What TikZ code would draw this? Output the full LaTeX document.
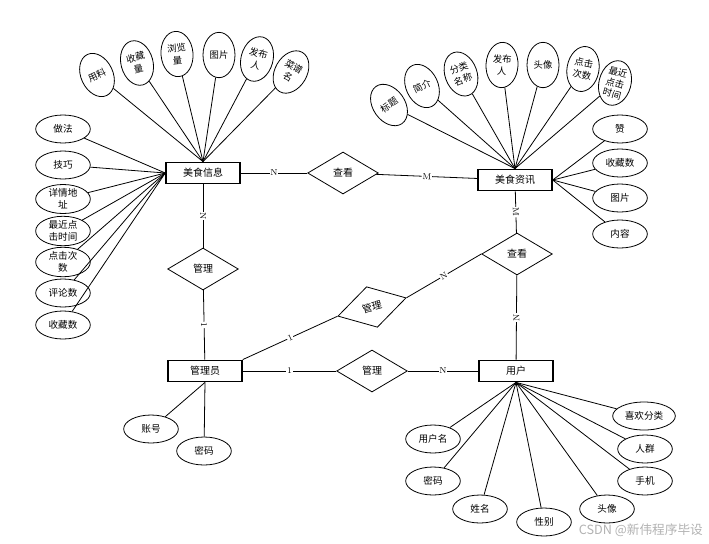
\documentclass[tikz,border=0pt]{standalone}
\usepackage{fontspec}
\newfontfamily\cjk{Noto Sans CJK SC}
\usetikzlibrary{shapes.geometric}

\begin{document}
\begin{tikzpicture}[x=0.75pt,y=-0.75pt,line width=0.6pt,
		entity/.style={rectangle,draw,line width=1.1pt,minimum width=55.5pt,minimum height=16pt,inner sep=0pt,font=\cjk\fontsize{7.5}{9}\selectfont},
		relation/.style={diamond,draw,minimum width=53pt,minimum height=31.5pt,inner sep=0pt,font=\cjk\fontsize{7.5}{9}\selectfont},
		attr/.style={ellipse,draw,minimum width=41pt,minimum height=21pt,inner sep=0pt,align=center,font=\cjk\fontsize{7.2}{9}\selectfont},
		tallattr/.style={attr,minimum width=24pt,minimum height=34pt,inner sep=-1pt,font=\cjk\fontsize{7}{9}\selectfont},
		card/.style={fill=white,inner sep=0.5pt,sloped,font=\fontsize{6.5}{7}\selectfont},
		watermark/.style={anchor=west,text=black!30,font=\cjk\fontsize{9.5}{11}\selectfont}]
		\useasboundingbox (0,0) rectangle (709,543);

		% entities
		\node at (203, 173) [entity] (food_info)  {美食信息};
		\node at (515, 180) [entity] (food_news)  {美食资讯};
		\node at (205, 371) [entity] (admin)      {管理员};
		\node at (516, 371) [entity] (user)       {用户};

		% relations
		\node at (343, 173) [relation] (view_top)      {查看};
		\node at (203, 269) [relation] (manage_left)   {管理};
		\node at (517, 254) [relation] (view_right)    {查看};
		\node at (372, 307) [relation,rotate=15] (manage_tilt) {管理};
		\node at (372, 371) [relation] (manage_bottom) {管理};

		% attributes of 美食信息
		\node at ( 97,  75) [tallattr,rotate=25]  (info_ingredients) {用料};
		\node at (137,  63) [tallattr,rotate=15]  (info_favorites)   {收藏\\量};
		\node at (177,  54) [tallattr,rotate=5]   (info_views)       {浏览\\量};
		\node at (219,  55) [tallattr]            (info_picture)     {图片};
		\node at (257,  59) [tallattr,rotate=-15] (info_publisher)   {发布\\人};
		\node at (291,  72) [tallattr,rotate=-30] (info_recipe_name) {菜谱\\名};
		\node at ( 63, 129) [attr] (info_method)        {做法};
		\node at ( 63, 165) [attr] (info_tips)          {技巧};
		\node at ( 63, 199) [attr] (info_detail_url)    {详情地\\址};
		\node at ( 63, 231) [attr] (info_last_click)    {最近点\\击时间};
		\node at ( 63, 262) [attr] (info_click_count)   {点击次\\数};
		\node at ( 63, 293) [attr] (info_comments)      {评论数};
		\node at ( 63, 325) [attr] (info_collect_count) {收藏数};

		% attributes of 美食资讯
		\node at (389, 105) [tallattr,rotate=35]  (news_title)       {标题};
		\node at (422,  86) [tallattr,rotate=25]  (news_intro)       {简介};
		\node at (461,  74) [tallattr,rotate=20]  (news_category)    {分类\\名称};
		\node at (502,  65) [tallattr,rotate=-3]  (news_publisher)   {发布\\人};
		\node at (543,  65) [tallattr]            (news_avatar)      {头像};
		\node at (583,  69) [tallattr,rotate=-10] (news_click_count) {点击\\次数};
		\node at (615,  83) [tallattr,rotate=-15,inner sep=-3pt,font=\cjk\fontsize{7}{8.5}\selectfont] (news_last_click) {最近\\点击\\时间};
		\node at (620, 129) [attr] (news_like)          {赞};
		\node at (620, 163) [attr] (news_collect_count) {收藏数};
		\node at (620, 198) [attr] (news_picture)       {图片};
		\node at (620, 234) [attr] (news_content)       {内容};

		% attributes of 管理员
		\node at (151, 429) [attr] (admin_account)  {账号};
		\node at (204, 451) [attr] (admin_password) {密码};

		% attributes of 用户
		\node at (433, 439) [attr] (user_name)     {用户名};
		\node at (433, 481) [attr] (user_password) {密码};
		\node at (480, 509) [attr] (user_realname) {姓名};
		\node at (544, 522) [attr] (user_gender)   {性别};
		\node at (607, 509) [attr] (user_avatar)   {头像};
		\node at (645, 481) [attr] (user_phone)    {手机};
		\node at (645, 449) [attr] (user_crowd)    {人群};
		\node at (644, 416) [attr,minimum width=47pt] (user_fav_category) {喜欢分类};

		\node at (574, 530) [watermark] (csdn_mark) {CSDN @新伟程序毕设};

		% relationships
		\draw (food_info)         edge node[card] {N} (view_top);
		\draw (view_top)          edge node[card] {M} (food_news);
		\draw (food_info)         edge node[card] {N} (manage_left);
		\draw (manage_left)       edge node[card] {1} (admin);
		\draw (food_news)         edge node[card] {M} (view_right);
		\draw (view_right)        edge node[card] {N} (user);
		\draw (view_right.west)   edge node[card] {N} (manage_tilt.east);
		\draw (manage_tilt.west)  edge node[card] {1} (admin.north east);
		\draw (admin)             edge node[card] {1} (manage_bottom);
		\draw (manage_bottom)     edge node[card] {N} (user);

		% attribute links
		\draw (food_info.north) edge (info_ingredients) edge (info_favorites) edge (info_views)
			edge (info_picture) edge (info_publisher) edge (info_recipe_name);
		\draw (food_info.west) edge (info_method) edge (info_tips) edge (info_detail_url)
			edge (info_last_click) edge (info_click_count) edge (info_comments) edge (info_collect_count);
		\draw (food_news.north) edge (news_title) edge (news_intro) edge (news_category)
			edge (news_publisher) edge (news_avatar) edge (news_click_count) edge (news_last_click);
		\draw (food_news.east) edge (news_like) edge (news_collect_count) edge (news_picture) edge (news_content);
		\draw (admin.south) edge (admin_account) edge (admin_password);
		\draw (user.south) edge (user_name) edge (user_password) edge (user_realname) edge (user_gender)
			edge (user_avatar) edge (user_phone) edge (user_crowd) edge (user_fav_category);
	\end{tikzpicture}
\end{document}
